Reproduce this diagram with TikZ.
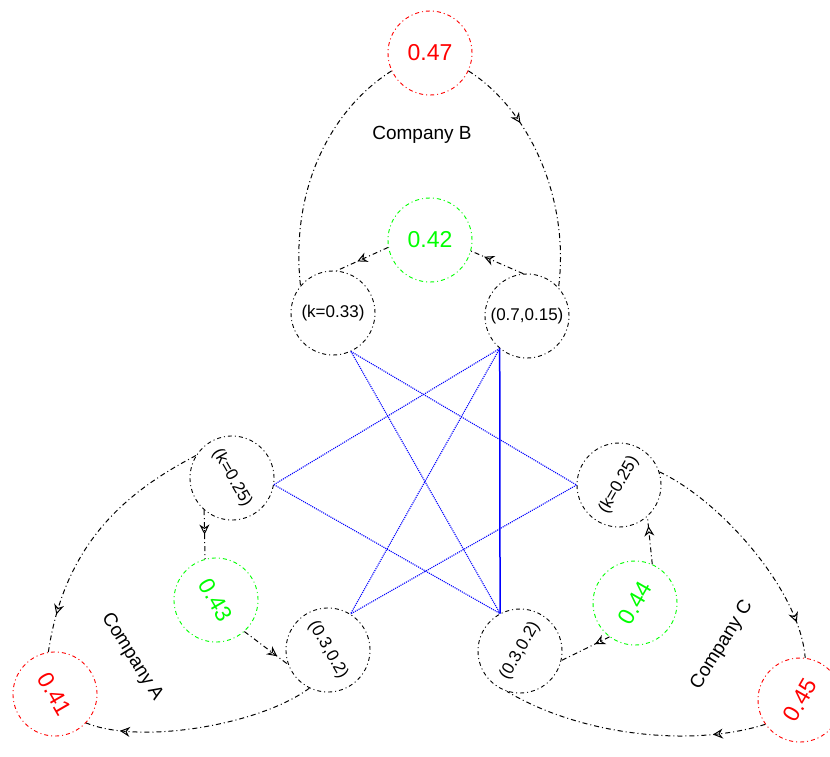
\documentclass[tikz,border=0pt]{standalone}
\usepackage{fontspec}
\setmainfont{Liberation Sans}
\usetikzlibrary{arrows.meta,decorations.markings}
\begin{document}
\begin{tikzpicture}[x=1pt,y=1pt,
 circ/.style={circle,minimum size=84pt,inner sep=0pt,line width=0.9pt,dash pattern=on 4pt off 3pt on 1pt off 3pt},
 blk/.style={circ,draw=black,font=\fontsize{17}{20}\selectfont},
 rednode/.style={circ,draw=red,text=red,font=\fontsize{23}{26}\selectfont},
 grnnode/.style={circ,draw=green,text=green,font=\fontsize{23}{26}\selectfont},
 conn/.style={line width=1pt,dash pattern=on 5pt off 3pt on 1pt off 3pt},
 midarrow/.style={postaction={decorate},decoration={markings,mark=at position #1 with {\arrow[solid]{Stealth[length=10pt,width=10pt,open]}}}},
 bl/.style={blue,line width=1.1pt,densely dotted},
 blsolid/.style={blue,line width=1.5pt},
 lbl/.style={font=\fontsize{19}{22}\selectfont}]
\useasboundingbox (0,0) rectangle (830,-756);
% top group
\node[rednode] (tR) at (430,-53) {0.47};
\node[lbl] (cB) at (422,-135) {Company B};
\node[grnnode] (tG) at (430,-240) {0.42};
\node[blk] (TL) at (333,-313) {(k=0.33)};
\node[blk] (TR) at (527,-316) {(0.7,0.15)};
% left group
\node[blk,rotate=-60] (LT) at (232,-478) {(k=0.25)};
\node[grnnode,rotate=-60] (LG) at (216,-600) {0.43};
\node[blk,rotate=-60] (LB) at (328,-650) {(0.3,0.2)};
\node[rednode,rotate=-60] (LR) at (55,-694) {0.41};
\node[lbl,rotate=-58] (cA) at (132,-657) {Company A};
% right group
\node[blk,rotate=60] (RT) at (619,-485) {(k=0.25)};
\node[grnnode,rotate=60] (RG) at (635,-603) {0.44};
\node[blk,rotate=60] (RB) at (520,-651) {(0.3,0.2)};
\node[rednode,rotate=60] (RR) at (800,-700) {0.45};
\node[lbl,rotate=58] (cC) at (722,-645) {Company C};
% blue links
\draw[bl] (TL.-65) -- (RT.120);
\draw[bl] (TL.-65) -- (RB.58);
\draw[bl] (TR.-130) -- (LT.51);
\draw[bl] (TR.-130) -- (LB.118);
\draw[blsolid] (TR.-130) -- (RB.58);
\draw[bl] (LT.51) -- (RB.58);
\draw[bl] (RT.120) -- (LB.118);
% top connectors
\draw[conn,midarrow=0.3] (tR.-25) .. controls (530,-110) and (570,-200) .. (TR.42);
\draw[conn] (tR.-155) .. controls (330,-110) and (290,-190) .. (TL.140);
\draw[conn,midarrow=0.6] (tG.190) -- (TL.85);
\draw[conn,midarrow=0.75] (TR.95) -- (tG.-15);
% left connectors
\draw[conn,midarrow=0.85] (LT.208) .. controls (130,-490) and (65,-540) .. (LR.159);
\draw[conn,midarrow=0.85] (LB.-56) .. controls (260,-725) and (140,-745) .. (LR.17);
\draw[conn,midarrow=0.5] (LT.-71) -- (LG.165);
\draw[conn,midarrow=0.75] (LG.12) -- (LB.-100);
% right connectors
\draw[conn,midarrow=0.85] (RT.-42) .. controls (720,-500) and (800,-590) .. (RR.23);
\draw[conn,midarrow=0.2] (RR.155) .. controls (690,-748) and (580,-735) .. (RB.-168);
\draw[conn,midarrow=0.8] (RG.6) -- (RT.-108);
\draw[conn,midarrow=0.3] (RG.173) -- (RB.-73);
\end{tikzpicture}
\end{document}
